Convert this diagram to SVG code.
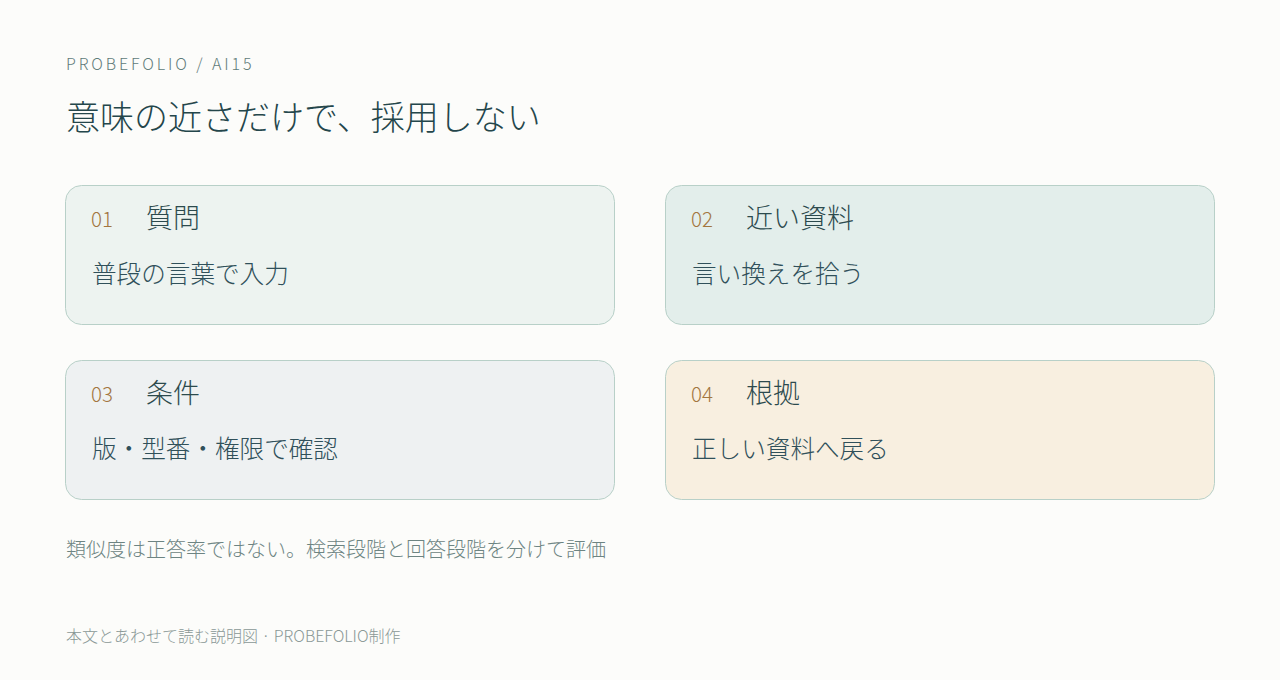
<svg xmlns="http://www.w3.org/2000/svg" width="1280" height="680" viewBox="0 0 1280 680">
<style>
.bg{fill:#fcfcfa}
.card{stroke:#b8d0c8;stroke-width:1}
.num{font-family:"Noto Sans CJK JP","Noto Sans",sans-serif;font-size:20.5px;fill:#a3763f;font-weight:300}
.ttl{font-family:"Noto Sans CJK JP",sans-serif;font-size:27px;fill:#2c4a4d;font-weight:300}
.body{font-family:"Noto Sans CJK JP",sans-serif;font-size:24.6px;fill:#30505a;font-weight:300}
</style>
<rect class="bg" x="0" y="0" width="1280" height="680"/>
<text x="66" y="70" font-family="'Noto Sans CJK JP','Noto Sans',sans-serif" font-size="16" font-weight="300" letter-spacing="2.9" fill="#5f7b79">PROBEFOLIO / AI15</text>
<text x="66" y="130" font-family="'Noto Sans CJK JP',sans-serif" font-size="34" font-weight="300" fill="#24464b">意味の近さだけで、採用しない</text>
<g id="node1">
<rect class="card" x="65.5" y="185.5" width="549" height="139" rx="16" fill="#edf3f0"/>
<text class="num" x="91" y="227">01</text>
<text class="ttl" x="146" y="228">質問</text>
<text class="body" x="92" y="283">普段の言葉で入力</text>
</g>
<g id="node2">
<rect class="card" x="665.5" y="185.5" width="549" height="139" rx="16" fill="#e3eeeb"/>
<text class="num" x="691" y="227">02</text>
<text class="ttl" x="746" y="228">近い資料</text>
<text class="body" x="692" y="283">言い換えを拾う</text>
</g>
<g id="node3">
<rect class="card" x="65.5" y="360.5" width="549" height="139" rx="16" fill="#eef1f2"/>
<text class="num" x="91" y="402">03</text>
<text class="ttl" x="146" y="403">条件</text>
<text class="body" x="92" y="458">版・型番・権限で確認</text>
</g>
<g id="node4">
<rect class="card" x="665.5" y="360.5" width="549" height="139" rx="16" fill="#f8efe0"/>
<text class="num" x="691" y="402">04</text>
<text class="ttl" x="746" y="403">根拠</text>
<text class="body" x="692" y="458">正しい資料へ戻る</text>
</g>
<g id="connectors"></g>
<text x="66" y="557" font-family="'Noto Sans CJK JP',sans-serif" font-size="20" font-weight="300" fill="#6d8482">類似度は正答率ではない。検索段階と回答段階を分けて評価</text>
<text x="66" y="642" font-family="'Noto Sans CJK JP',sans-serif" font-size="16" font-weight="300" fill="#8a9896">本文とあわせて読む説明図 · PROBEFOLIO制作</text>
</svg>
